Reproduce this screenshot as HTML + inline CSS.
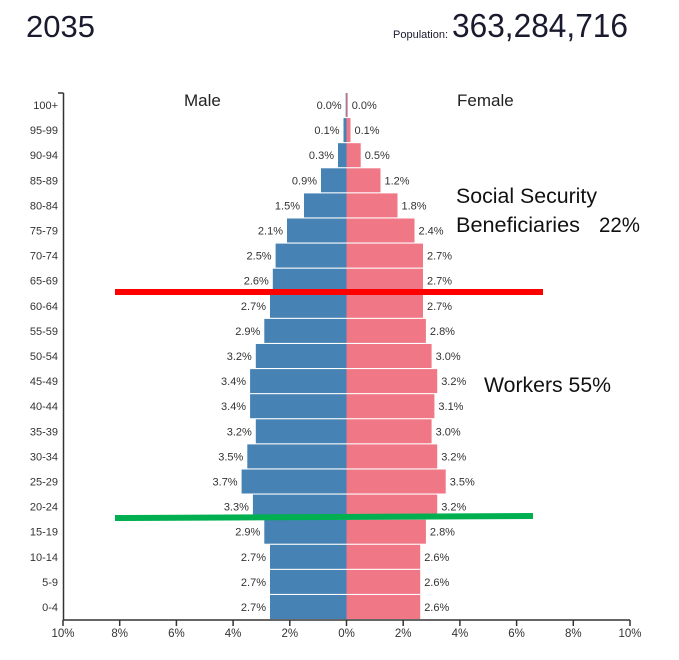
<!DOCTYPE html>
<html><head><meta charset="utf-8"><style>
html,body{margin:0;padding:0;background:#fff;}
svg{display:block;font-family:"Liberation Sans",sans-serif;}
.m{fill:#4682b4}.f{fill:#f07786}
.l{font-size:11px;fill:#333;text-anchor:end}
.r{font-size:11px;fill:#333}
.t{font-size:11.5px;fill:#333;text-anchor:middle}
</style></head><body>
<svg width="679" height="660" viewBox="0 0 679 660" xmlns="http://www.w3.org/2000/svg">
<text x="26" y="37" font-size="31" fill="#1a1a2e">2035</text>
<text x="393" y="38" font-size="11" fill="#1a1a2e">Population:</text>
<text x="452" y="37" font-size="33" fill="#1a1a2e" textLength="176" lengthAdjust="spacingAndGlyphs">363,284,716</text>
<text x="184" y="106" font-size="17" fill="#222">Male</text>
<text x="457" y="106" font-size="17" fill="#222">Female</text>

<rect class="m" x="345.7" y="93" width="0.8" height="24"/><rect class="f" x="346.5" y="93" width="1.2" height="24"/>
<text class="l" x="341.7" y="109">0.0%</text><text class="r" x="351.7" y="109">0.0%</text><text class="l" x="58" y="109">100+</text>

<rect class="m" x="343.5" y="118.1" width="3" height="24"/><rect class="f" x="346.5" y="118.1" width="4" height="24"/>
<text class="l" x="339.5" y="134.1">0.1%</text><text class="r" x="354.5" y="134.1">0.1%</text><text class="l" x="58" y="134.1">95-99</text>

<rect class="m" x="338" y="143.2" width="8.5" height="24"/><rect class="f" x="346.5" y="143.2" width="14.2" height="24"/>
<text class="l" x="334" y="159.2">0.3%</text><text class="r" x="364.7" y="159.2">0.5%</text><text class="l" x="58" y="159.2">90-94</text>

<rect class="m" x="321" y="168.3" width="25.5" height="24"/><rect class="f" x="346.5" y="168.3" width="34" height="24"/>
<text class="l" x="317" y="184.3">0.9%</text><text class="r" x="384.5" y="184.3">1.2%</text><text class="l" x="58" y="184.3">85-89</text>

<rect class="m" x="304" y="193.4" width="42.5" height="24"/><rect class="f" x="346.5" y="193.4" width="51" height="24"/>
<text class="l" x="300" y="209.4">1.5%</text><text class="r" x="401.5" y="209.4">1.8%</text><text class="l" x="58" y="209.4">80-84</text>

<rect class="m" x="287" y="218.5" width="59.5" height="24"/><rect class="f" x="346.5" y="218.5" width="68" height="24"/>
<text class="l" x="283" y="234.5">2.1%</text><text class="r" x="418.5" y="234.5">2.4%</text><text class="l" x="58" y="234.5">75-79</text>

<rect class="m" x="275.6" y="243.6" width="70.9" height="24"/><rect class="f" x="346.5" y="243.6" width="76.5" height="24"/>
<text class="l" x="271.6" y="259.6">2.5%</text><text class="r" x="427" y="259.6">2.7%</text><text class="l" x="58" y="259.6">70-74</text>

<rect class="m" x="272.8" y="268.7" width="73.7" height="24"/><rect class="f" x="346.5" y="268.7" width="76.5" height="24"/>
<text class="l" x="268.8" y="284.7">2.6%</text><text class="r" x="427" y="284.7">2.7%</text><text class="l" x="58" y="284.7">65-69</text>

<rect class="m" x="270" y="293.8" width="76.5" height="24"/><rect class="f" x="346.5" y="293.8" width="76.5" height="24"/>
<text class="l" x="266" y="309.8">2.7%</text><text class="r" x="427" y="309.8">2.7%</text><text class="l" x="58" y="309.8">60-64</text>

<rect class="m" x="264.3" y="318.9" width="82.2" height="24"/><rect class="f" x="346.5" y="318.9" width="79.4" height="24"/>
<text class="l" x="260.3" y="334.9">2.9%</text><text class="r" x="429.9" y="334.9">2.8%</text><text class="l" x="58" y="334.9">55-59</text>

<rect class="m" x="255.8" y="344" width="90.7" height="24"/><rect class="f" x="346.5" y="344" width="85.1" height="24"/>
<text class="l" x="251.8" y="360">3.2%</text><text class="r" x="435.6" y="360">3.0%</text><text class="l" x="58" y="360">50-54</text>

<rect class="m" x="250.1" y="369.1" width="96.4" height="24"/><rect class="f" x="346.5" y="369.1" width="90.7" height="24"/>
<text class="l" x="246.1" y="385.1">3.4%</text><text class="r" x="441.2" y="385.1">3.2%</text><text class="l" x="58" y="385.1">45-49</text>

<rect class="m" x="250.1" y="394.2" width="96.4" height="24"/><rect class="f" x="346.5" y="394.2" width="87.9" height="24"/>
<text class="l" x="246.1" y="410.2">3.4%</text><text class="r" x="438.4" y="410.2">3.1%</text><text class="l" x="58" y="410.2">40-44</text>

<rect class="m" x="255.8" y="419.3" width="90.7" height="24"/><rect class="f" x="346.5" y="419.3" width="85.1" height="24"/>
<text class="l" x="251.8" y="435.3">3.2%</text><text class="r" x="435.6" y="435.3">3.0%</text><text class="l" x="58" y="435.3">35-39</text>

<rect class="m" x="247.3" y="444.4" width="99.2" height="24"/><rect class="f" x="346.5" y="444.4" width="90.7" height="24"/>
<text class="l" x="243.3" y="460.4">3.5%</text><text class="r" x="441.2" y="460.4">3.2%</text><text class="l" x="58" y="460.4">30-34</text>

<rect class="m" x="241.6" y="469.5" width="104.9" height="24"/><rect class="f" x="346.5" y="469.5" width="99.2" height="24"/>
<text class="l" x="237.6" y="485.5">3.7%</text><text class="r" x="449.7" y="485.5">3.5%</text><text class="l" x="58" y="485.5">25-29</text>

<rect class="m" x="252.9" y="494.6" width="93.6" height="24"/><rect class="f" x="346.5" y="494.6" width="90.7" height="24"/>
<text class="l" x="248.9" y="510.6">3.3%</text><text class="r" x="441.2" y="510.6">3.2%</text><text class="l" x="58" y="510.6">20-24</text>

<rect class="m" x="264.3" y="519.7" width="82.2" height="24"/><rect class="f" x="346.5" y="519.7" width="79.4" height="24"/>
<text class="l" x="260.3" y="535.7">2.9%</text><text class="r" x="429.9" y="535.7">2.8%</text><text class="l" x="58" y="535.7">15-19</text>

<rect class="m" x="270" y="544.8" width="76.5" height="24"/><rect class="f" x="346.5" y="544.8" width="73.7" height="24"/>
<text class="l" x="266" y="560.8">2.7%</text><text class="r" x="424.2" y="560.8">2.6%</text><text class="l" x="58" y="560.8">10-14</text>

<rect class="m" x="270" y="569.9" width="76.5" height="24"/><rect class="f" x="346.5" y="569.9" width="73.7" height="24"/>
<text class="l" x="266" y="585.9">2.7%</text><text class="r" x="424.2" y="585.9">2.6%</text><text class="l" x="58" y="585.9">5-9</text>

<rect class="m" x="270" y="595" width="76.5" height="24"/><rect class="f" x="346.5" y="595" width="73.7" height="24"/>
<text class="l" x="266" y="611">2.7%</text><text class="r" x="424.2" y="611">2.6%</text><text class="l" x="58" y="611">0-4</text>

<line x1="63.5" y1="93" x2="63.5" y2="620" stroke="#333" stroke-width="1.5"/>
<line x1="58" y1="93" x2="63.5" y2="93" stroke="#333" stroke-width="1.5"/>
<line x1="63" y1="620" x2="630" y2="620" stroke="#333" stroke-width="1.5"/>
<g stroke="#333" stroke-width="1.5">
<line x1="63" y1="620" x2="63" y2="626"/><line x1="119.7" y1="620" x2="119.7" y2="626"/><line x1="176.4" y1="620" x2="176.4" y2="626"/><line x1="233.1" y1="620" x2="233.1" y2="626"/><line x1="289.8" y1="620" x2="289.8" y2="626"/><line x1="346.5" y1="620" x2="346.5" y2="626"/><line x1="403.2" y1="620" x2="403.2" y2="626"/><line x1="459.9" y1="620" x2="459.9" y2="626"/><line x1="516.6" y1="620" x2="516.6" y2="626"/><line x1="573.3" y1="620" x2="573.3" y2="626"/><line x1="630" y1="620" x2="630" y2="626"/>
</g>
<text class="t" x="63" y="637">10%</text><text class="t" x="119.7" y="637">8%</text><text class="t" x="176.4" y="637">6%</text><text class="t" x="233.1" y="637">4%</text><text class="t" x="289.8" y="637">2%</text><text class="t" x="346.5" y="637">0%</text><text class="t" x="403.2" y="637">2%</text><text class="t" x="459.9" y="637">4%</text><text class="t" x="516.6" y="637">6%</text><text class="t" x="573.3" y="637">8%</text><text class="t" x="630" y="637">10%</text>

<line x1="115" y1="292" x2="543" y2="292" stroke="#ff0000" stroke-width="6"/>
<line x1="115" y1="518" x2="533" y2="516" stroke="#00b050" stroke-width="6"/>
<text x="456" y="203" font-size="21" fill="#111" textLength="141" lengthAdjust="spacingAndGlyphs">Social Security</text>
<text x="456" y="232" font-size="21" fill="#111" textLength="124" lengthAdjust="spacingAndGlyphs">Beneficiaries</text>
<text x="599" y="232" font-size="21" fill="#111" textLength="41" lengthAdjust="spacingAndGlyphs">22%</text>
<text x="484" y="392" font-size="21" fill="#111" textLength="127" lengthAdjust="spacingAndGlyphs">Workers 55%</text>
</svg>
</body></html>
